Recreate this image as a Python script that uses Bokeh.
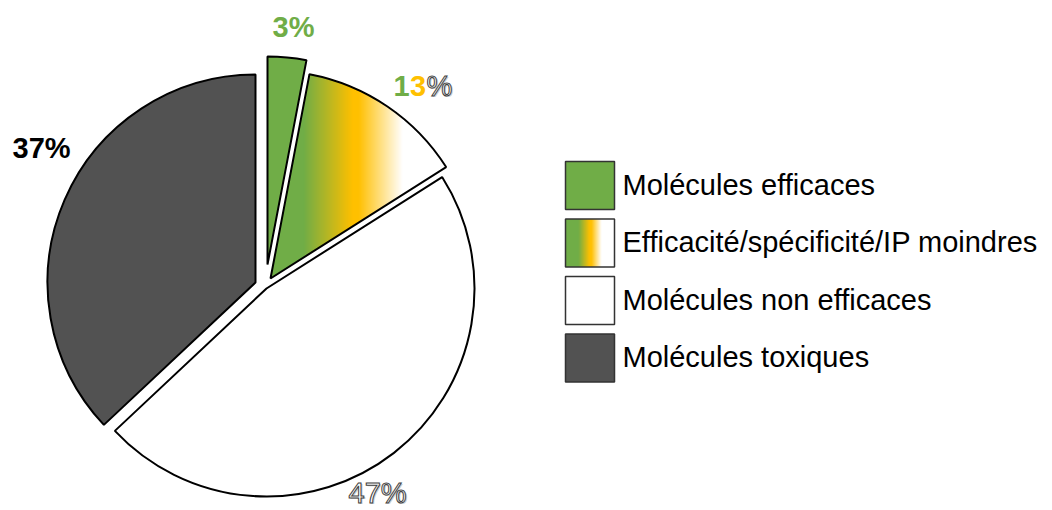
import numpy as np
from bokeh.plotting import figure
from bokeh.models import Range1d
from bokeh.core.properties import value
from bokeh.embed import file_html
from bokeh.resources import INLINE

# ---- data ----
categories = ["Molécules efficaces", "Efficacité/spécificité/IP moindres",
              "Molécules non efficaces", "Molécules toxiques"]
shares = [3, 13, 47, 37]
pct_labels = ["3%", "13%", "47%", "37%"]
colors = ["#70AD47", None, "#FFFFFF", "#525252"]

# ---- layout (pixel coords of the page image; y converted below) ----
W, H = 1052, 510
TXT = 12  # empirical text baseline correction (px)
def Y(py):
    return 510 - py

apex_px = [(267, 264), (270, 278), (266, 288), (255, 282)]
R = 208

p = figure(width=W, height=H, x_range=Range1d(0, W), y_range=Range1d(510 - H, 510),
           output_backend="svg", toolbar_location=None, x_axis_type=None,
           y_axis_type=None, min_border=0)
p.grid.visible = False
p.outline_line_color = None

total = float(sum(shares))
cum = np.concatenate([[0], np.cumsum(shares)]) / total

GREEN = np.array([112, 173, 71], float)
YELLOW = np.array([255, 192, 0], float)
WHITE = np.array([255, 255, 255], float)

def grad_color(xs, stops):
    cols = np.array([s[1] for s in stops])
    pos = np.array([s[0] for s in stops], float)
    out = np.zeros(xs.shape + (3,))
    for c in range(3):
        out[..., c] = np.interp(xs, pos, cols[:, c])
    return out

def to_rgba(rgb, alpha):
    h, w = alpha.shape
    img = np.zeros((h, w), dtype=np.uint32)
    v = img.view(dtype=np.uint8).reshape((h, w, 4))
    v[..., 0] = rgb[..., 0]
    v[..., 1] = rgb[..., 1]
    v[..., 2] = rgb[..., 2]
    v[..., 3] = alpha
    return img

for i, (a, b) in enumerate(zip(cum[:-1], cum[1:])):
    ax_, ay_ = apex_px[i]
    cx, cy = ax_, Y(ay_)
    start = np.pi / 2 - 2 * np.pi * b
    end = np.pi / 2 - 2 * np.pi * a
    if colors[i] is None:
        x0, x1 = int(cx) - 2, int(cx + R) + 2
        y0, y1 = int(cy), int(cy + R) + 2
        xs = np.arange(x0, x1) + 0.5
        ys = np.arange(y0, y1) + 0.5
        XX, YY = np.meshgrid(xs, ys)
        dx, dy = XX - cx, YY - cy
        th = np.mod(np.arctan2(dx, dy), 2 * np.pi)
        inside = (np.hypot(dx, dy) <= R) & (th >= 2 * np.pi * a) & (th <= 2 * np.pi * b)
        rgb = grad_color(XX, [(303, GREEN), (352, YELLOW), (358, YELLOW), (402, WHITE)])
        img = to_rgba(rgb, np.where(inside, 255, 0))
        p.image_rgba(image=[img], x=x0, y=y0, dw=x1 - x0, dh=y1 - y0)
        p.wedge(x=cx, y=cy, radius=R, start_angle=start, end_angle=end,
                direction="anticlock", fill_color=None, line_color="black", line_width=2)
    else:
        p.wedge(x=cx, y=cy, radius=R, start_angle=start, end_angle=end,
                direction="anticlock", fill_color=colors[i], line_color="black", line_width=2)

FONT = value("Liberation Sans")

def ty(py):
    return Y(py - TXT)

# ---- percentage labels ----
p.text(x=[272], y=[ty(38)], text=[pct_labels[0]], text_font=FONT, text_font_size="29px",
       text_font_style="bold", text_color="#70AD47", text_baseline="alphabetic")
p.text(x=[12], y=[ty(159)], text=[pct_labels[3]], text_font=FONT, text_font_size="29px",
       text_font_style="bold", text_color="black", text_baseline="alphabetic")
lab = pct_labels[1]
xs13 = [393, 409.5, 426]
p.text(x=[xs13[2] + 1.5], y=[ty(97) - 1.5], text=[lab[2]], text_font=FONT, text_font_size="29px",
       text_color="#b0b0b0", text_alpha=0.6, text_baseline="alphabetic")
p.text(x=[xs13[0]], y=[ty(97)], text=[lab[0]], text_font=FONT, text_font_size="29px",
       text_font_style="bold", text_color="#70AD47", text_baseline="alphabetic")
p.text(x=[xs13[1]], y=[ty(97)], text=[lab[1]], text_font=FONT, text_font_size="29px",
       text_font_style="bold", text_color="#FFC000", text_baseline="alphabetic")
p.text(x=[xs13[2]], y=[ty(97)], text=[lab[2]], text_font=FONT, text_font_size="29px",
       text_color="white", text_outline_color="#404040", text_baseline="alphabetic")
p.text(x=[349.5], y=[ty(504) - 1.5], text=[pct_labels[2]], text_font=FONT, text_font_size="29px",
       text_color="#b0b0b0", text_alpha=0.6, text_baseline="alphabetic")
p.text(x=[348], y=[ty(504)], text=[pct_labels[2]], text_font=FONT, text_font_size="29px",
       text_color="white", text_outline_color="#404040", text_baseline="alphabetic")

# ---- legend ----
box_left, box_w, box_h = 565, 49, 48
box_tops = [161, 218.5, 276, 333.5]
for i, cat in enumerate(categories):
    top = box_tops[i]
    cxb = box_left + box_w / 2
    cyb = Y(top + box_h / 2)
    if colors[i] is None:
        x0, x1 = box_left, box_left + box_w
        y0, y1 = Y(top + box_h), Y(top)
        xs = np.arange(x0, x1) + 0.5
        ys = np.arange(y0, y1) + 0.5
        XX, YY = np.meshgrid(xs, ys)
        rgb = grad_color(XX, [(578, GREEN), (589, YELLOW), (591, YELLOW), (601, WHITE)])
        img = to_rgba(rgb, np.full(XX.shape, 255))
        p.image_rgba(image=[img], x=x0, y=y0, dw=x1 - x0, dh=y1 - y0)
        p.rect(x=cxb, y=cyb, width=box_w, height=box_h, fill_color=None,
               line_color="#333333", line_width=1.5)
    else:
        p.rect(x=cxb, y=cyb, width=box_w, height=box_h, fill_color=colors[i],
               line_color="#333333", line_width=1.5)
    p.text(x=[622], y=[ty(top + box_h / 2 + 11)], text=[cat], text_font=FONT,
           text_font_size="29px", text_color="black", text_baseline="alphabetic")

open("out.html", "w").write(file_html(p, INLINE))
